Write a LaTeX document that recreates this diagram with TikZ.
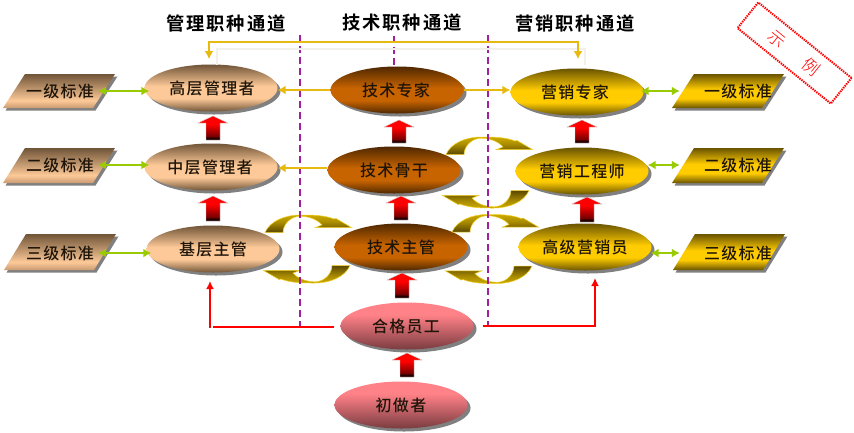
\documentclass[tikz,border=0pt]{standalone}
\usepackage{fontspec}
\usetikzlibrary{shapes.geometric,shadows,arrows.meta}
\newfontfamily\cjkbody[LetterSpace=8]{Noto Sans CJK SC Medium}
\newfontfamily\cjkhead[LetterSpace=11]{Noto Sans CJK SC Bold}
\newfontfamily\cjkstamp{Noto Sans CJK SC Light}
\definecolor{tanD}{HTML}{705538}\definecolor{tanL}{HTML}{FDC998}\definecolor{tanM}{HTML}{C99A72}
\definecolor{orgD}{HTML}{4F2800}\definecolor{orgL}{HTML}{C86400}
\definecolor{gldD}{HTML}{6A5400}\definecolor{gldL}{HTML}{FFCC00}
\definecolor{pnkD}{HTML}{7A3C40}\definecolor{pnkL}{HTML}{FF8288}
\definecolor{lineGold}{HTML}{E8B90F}\definecolor{lineGreen}{HTML}{99CC00}
\definecolor{linePurple}{HTML}{A020A0}\definecolor{inkText}{HTML}{1E1408}
\definecolor{ghost}{HTML}{F1F0EA}\definecolor{glow}{HTML}{F2D020}
\definecolor{cresL}{HTML}{CCAA00}\definecolor{cresD}{HTML}{5A4700}
\pgfdeclareverticalshading{tanE}{100bp}{color(0bp)=(tanD);color(25bp)=(tanD);color(39bp)=(tanL);color(52bp)=(tanL);color(75bp)=(tanD);color(100bp)=(tanD)}
\pgfdeclareverticalshading{tanP}{100bp}{color(0bp)=(tanM);color(25bp)=(tanM);color(36bp)=(tanL);color(75bp)=(tanD);color(100bp)=(tanD)}
\pgfdeclareverticalshading{orgE}{100bp}{color(0bp)=(orgD);color(25bp)=(orgD);color(39bp)=(orgL);color(52bp)=(orgL);color(75bp)=(orgD);color(100bp)=(orgD)}
\pgfdeclareverticalshading{gldE}{100bp}{color(0bp)=(gldD);color(25bp)=(gldD);color(39bp)=(gldL);color(52bp)=(gldL);color(75bp)=(gldD);color(100bp)=(gldD)}
\pgfdeclareverticalshading{pnkE}{100bp}{color(0bp)=(pnkD);color(25bp)=(pnkD);color(62bp)=(pnkL);color(75bp)=(pnkL);color(100bp)=(pnkL)}
\pgfdeclareverticalshading{redA}{100bp}{color(0bp)=(black!85!red);color(25bp)=(black!85!red);color(31bp)=(black!85!red);color(32bp)=(red!45!black);color(58bp)=(red);color(75bp)=(red);color(100bp)=(red)}
\pgfdeclareverticalshading{cresUp}{100bp}{color(0bp)=(cresD);color(25bp)=(cresD);color(55bp)=(cresL!70!cresD);color(75bp)=(cresL);color(100bp)=(cresL)}
\pgfdeclareverticalshading{cresDn}{100bp}{color(0bp)=(cresL);color(25bp)=(cresL);color(45bp)=(cresL!70!cresD);color(75bp)=(cresD);color(100bp)=(cresD)}
\tikzset{
  stage/.style={ellipse,inner sep=0pt,minimum width=133pt,minimum height=47pt,shade,
    general shadow={fill=black!50,shadow xshift=3pt,shadow yshift=-3pt}},
  tanstage/.style={stage,shading=tanE},
  orgstage/.style={stage,shading=orgE},
  gldstage/.style={stage,shading=gldE},
  pnkstage/.style={stage,shading=pnkE},
  plate/.style={shade,general shadow={fill=black!50,shadow xshift=2.5pt,shadow yshift=-2.5pt}},
  lbl/.style={inner sep=0pt,text=inkText,font=\cjkbody\fontsize{16}{18}\selectfont},
  platelbl/.style={lbl,minimum width=90pt,minimum height=20pt},
  head/.style={inner sep=0pt,text=black,font=\cjkhead\fontsize{18.3}{20}\selectfont},
  greenlink/.style={lineGreen,line width=2.6pt,{Latex[length=8pt,width=9pt]}-{Latex[length=8pt,width=9pt]}},
  goldlink/.style={lineGold,line width=2.6pt,-{Latex[length=8pt,width=9pt]}},
  goldtwin/.style={lineGold,line width=2.2pt,{Latex[length=8pt,width=9pt]}-{Latex[length=8pt,width=9pt]}},
  ghostline/.style={ghost,line width=2pt},
  redlink/.style={red,line width=2.5pt},
  divider/.style={linePurple,line width=2.2pt,dash pattern=on 7pt off 4pt},
  blockup/.style={shade,shading=redA,draw=white!80!black,line width=.4pt},
  crescup/.style={shade,shading=cresUp,draw=glow,line width=.5pt},
  crescdn/.style={shade,shading=cresDn,draw=glow,line width=.5pt},
  stampbox/.style={draw=red,line width=2pt,dash pattern=on 1.4pt off 1pt,rotate=-39,minimum width=120pt,minimum height=33pt,
    text=red,inner sep=0pt,font=\cjkstamp\fontsize{17}{19}\selectfont},
}
% \platepath{x of bottom-left}{y top}{y bottom}{shading}
\newcommand{\platepath}[4]{%
  \path[plate,shading=#4] (#1,#3) -- (#1+22,#2) -- (#1+112,#2) -- (#1+90,#3) -- cycle;}
\newcommand{\blockarrow}[3]{%
  \path[blockup] (#1-7,#3) -- (#1-7,#2+7) -- (#1-15,#2+7) -- (#1,#2) -- (#1+15,#2+7) -- (#1+7,#2+7) -- (#1+7,#3) -- cycle;}
\newcommand{\crescent}[4]{%
  \path[#4,shift={(#1,#2)},xscale=#3,yscale=#3] (-35,17.5) .. controls (-30,6) and (-15,0) .. (0,0)
   .. controls (12,0) and (24,0) .. (34,4) -- (36,3.5) -- (51.7,12.7) -- (15,12.7) -- (22,10)
   .. controls (17,4) and (8,1.2) .. (0,1.2) .. controls (-9,1.2) and (-17,9) .. (-17,17.5) -- cycle;}
\begin{document}
\begin{tikzpicture}[x=1pt,y=-1pt]
\path[fill=white,use as bounding box] (0,0) rectangle (854,432);

% level plates
\platepath{3}{74}{108}{tanP}
\platepath{3}{148}{183}{tanP}
\platepath{4}{234}{270}{tanP}
\platepath{672}{74}{108}{gldE}
\platepath{672}{148}{183}{gldE}
\platepath{673}{234}{270}{gldE}
\node[platelbl] (P1) at (60,91) {一级标准};
\node[platelbl] (P2) at (60,165) {二级标准};
\node[platelbl] (P3) at (60,253) {三级标准};
\node[platelbl] (R1) at (738,91) {一级标准};
\node[platelbl] (R2) at (738,165) {二级标准};
\node[platelbl] (R3) at (738,253) {三级标准};

% stages
\node[tanstage] (H1) at (211,88) {}; \node[lbl] at (212,88) {高层管理者};
\node[tanstage] (H2) at (211,167) {}; \node[lbl] at (210,167) {中层管理者};
\node[tanstage] (H3) at (213,249) {}; \node[lbl] at (213,249) {基层主管};
\node[orgstage] (T1) at (397,90) {}; \node[lbl] at (396,90) {技术专家};
\node[orgstage] (T2) at (394,170) {}; \node[lbl] at (394,170) {技术骨干};
\node[orgstage] (T3) at (401,247) {}; \node[lbl] at (401,247) {技术主管};
\node[gldstage] (S1) at (577,92) {}; \node[lbl] at (575,92) {营销专家};
\node[gldstage] (S2) at (582,171) {}; \node[lbl] at (582,171) {营销工程师};
\node[gldstage] (S3) at (585,247) {}; \node[lbl] at (585,247) {高级营销员};
\node[pnkstage] (Q) at (407,326) {}; \node[lbl] at (406,326) {合格员工};
\node[pnkstage] (N) at (401,405) {}; \node[lbl] at (401,405) {初做者};

% headings
\node[head] (hA) at (226,23) {管理职种通道};
\node[head] (hB) at (402,22) {技术职种通道};
\node[head] (hC) at (575,23) {营销职种通道};

% curved exchange arrows
\crescent{300}{215}{1}{crescup}
\crescent{315}{283}{-1}{crescdn}
\crescent{481}{137}{1}{crescup}
\crescent{494}{208}{-1}{crescdn}
\crescent{487}{214.5}{1}{crescup}
\crescent{497}{283.5}{-1}{crescdn}

% dividers
\coordinate (dA0) at (300,35); \coordinate (dA1) at (300,330);
\coordinate (dC0) at (488,35); \coordinate (dC1) at (488,327);
\coordinate (dB0) at (394,36);
\draw[divider] (dA0) -- (dA1);
\draw[divider] (dC0) -- (dC1);
\draw[divider] (dB0) -- (dB0 |- T1.north);

% top link
\coordinate (gL) at (209,59); \coordinate (gR) at (578,59); \coordinate (gM) at (394,42);
\coordinate (wL) at (217,65); \coordinate (wR) at (585,65); \coordinate (wM) at (394,49);
\draw[ghostline] (wL) |- (wM) -| (wR);
\draw[goldtwin] (gL) |- (gM) -| (gR);

% gold links
\draw[goldlink] (T1.west) -- (T1.west -| H1.east);
\draw[goldlink] ([yshift=2pt]T2.west) -- ([yshift=2pt]T2.west -| H2.east);
\draw[goldlink] (T1.east) -- (T1.east -| S1.west);

% green links
\draw[greenlink,shorten <=-7pt,shorten >=-5pt] (P1.east) -- (P1.east -| H1.west);
\draw[greenlink,shorten <=-7pt,shorten >=-5pt] (P2.east) -- (P2.east -| H2.west);
\draw[greenlink,shorten <=-7pt,shorten >=-5pt] (P3.east) -- (P3.east -| H3.west);
\draw[greenlink,shorten <=-3pt,shorten >=13pt] (R1.west -| S1.east) -- (R1.west);
\draw[greenlink,shorten <=-1pt,shorten >=13pt] (R2.west -| S2.east) -- (R2.west);
\draw[greenlink,shorten <=-1pt,shorten >=13pt] (R3.west -| S3.east) -- (R3.west);

% red links
\coordinate (rL0) at (213,327); \coordinate (rL1) at (210,328); \coordinate (rL2) at (210,281);
\coordinate (rR1) at (595,326); \coordinate (rR2) at (595,278);
\draw[redlink,shorten <=6pt] (Q.west |- rL0) -- (rL0);
\draw[redlink,-{Latex[length=8pt,width=8pt]}] (rL1) -- (rL2);
\draw[redlink,shorten <=9pt,-{Latex[length=8pt,width=8pt]}] (Q.east |- rR1) -- (rR1) -- (rR2);

% promotion arrows
\blockarrow{213}{116}{140}
\blockarrow{213}{196}{221}
\blockarrow{399}{120}{143}
\blockarrow{401}{196}{220}
\blockarrow{402}{273}{298}
\blockarrow{407}{353}{377}
\blockarrow{582}{120}{143}
\blockarrow{587}{197}{222}

% stamp
\node[stampbox] (stamp) at (794.5,53) {示\hspace{27pt}例};
\end{tikzpicture}
\end{document}
